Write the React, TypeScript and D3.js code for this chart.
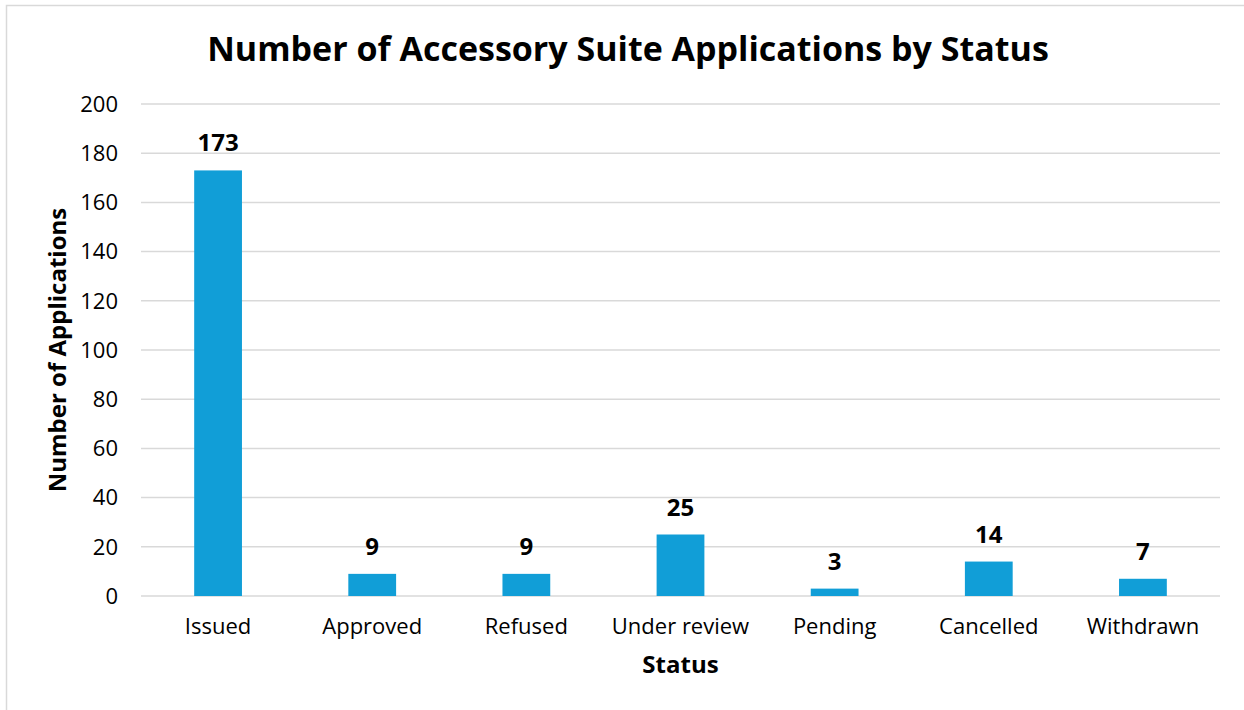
import React, { useRef, useEffect } from 'react';
import * as d3 from 'd3';

const categories = ['Issued', 'Approved', 'Refused', 'Under review', 'Pending', 'Cancelled', 'Withdrawn'];
const counts = [173, 9, 9, 25, 3, 14, 7];
const yTicks = [0, 20, 40, 60, 80, 100, 120, 140, 160, 180, 200];

const FONT = '"Open Sans", "Liberation Sans", sans-serif';

const App = () => {
  const svgRef = useRef<SVGSVGElement>(null);

  useEffect(() => {
    const svg = d3.select(svgRef.current);
    const width = 1244;
    const height = 710;
    const margin = { top: 104, right: 24, bottom: 114, left: 141 };
    const innerWidth = width - margin.left - margin.right;
    const innerHeight = height - margin.top - margin.bottom;

    svg.selectAll('*').remove();

    svg.append('rect')
      .attr('width', width)
      .attr('height', height)
      .attr('fill', '#fff');

    // chart frame (runs off the right and bottom edges)
    svg.append('rect')
      .attr('x', 6.5)
      .attr('y', 5.5)
      .attr('width', width + 20)
      .attr('height', height + 20)
      .attr('fill', 'none')
      .attr('stroke', '#d9d9d9')
      .attr('stroke-width', 1.5);

    const x = d3.scaleBand()
      .domain(categories)
      .range([0, innerWidth])
      .paddingInner(0.69)
      .paddingOuter(0.345);

    const y = d3.scaleLinear()
      .domain([0, 200])
      .range([innerHeight, 0]);

    const g = svg.append('g')
      .attr('transform', `translate(${margin.left}, ${margin.top})`);

    g.selectAll('.grid')
      .data(yTicks)
      .enter()
      .append('line')
      .attr('class', 'grid')
      .attr('x1', 0)
      .attr('x2', innerWidth)
      .attr('y1', d => y(d))
      .attr('y2', d => y(d))
      .attr('stroke', '#d9d9d9')
      .attr('stroke-width', 1.5);

    g.selectAll('.ytick')
      .data(yTicks)
      .enter()
      .append('text')
      .attr('class', 'ytick')
      .attr('x', -23)
      .attr('y', d => y(d))
      .attr('dy', '0.35em')
      .attr('text-anchor', 'end')
      .attr('font-family', FONT)
      .attr('font-size', 22)
      .attr('fill', '#000')
      .text(d => d);

    g.selectAll('.bar')
      .data(counts)
      .enter()
      .append('rect')
      .attr('class', 'bar')
      .attr('x', (d, i) => x(categories[i]))
      .attr('y', d => y(d))
      .attr('width', x.bandwidth())
      .attr('height', d => innerHeight - y(d))
      .attr('fill', '#119ed7');

    g.selectAll('.label')
      .data(counts)
      .enter()
      .append('text')
      .attr('class', 'label')
      .attr('x', (d, i) => x(categories[i]) + x.bandwidth() / 2)
      .attr('y', d => y(d) - 19)
      .attr('text-anchor', 'middle')
      .attr('font-family', FONT)
      .attr('font-weight', 'bold')
      .attr('font-size', 24)
      .attr('fill', '#000')
      .text(d => d);

    g.selectAll('.xtick')
      .data(categories)
      .enter()
      .append('text')
      .attr('class', 'xtick')
      .attr('x', d => x(d) + x.bandwidth() / 2)
      .attr('y', innerHeight + 38)
      .attr('text-anchor', 'middle')
      .attr('font-family', FONT)
      .attr('font-size', 22)
      .attr('fill', '#000')
      .text(d => d);

    svg.append('text')
      .attr('x', margin.left + innerWidth / 2)
      .attr('y', 673)
      .attr('text-anchor', 'middle')
      .attr('font-family', FONT)
      .attr('font-weight', 'bold')
      .attr('font-size', 24)
      .text('Status');

    svg.append('text')
      .attr('transform', `translate(66, ${margin.top + innerHeight / 2}) rotate(-90)`)
      .attr('text-anchor', 'middle')
      .attr('font-family', FONT)
      .attr('font-weight', 'bold')
      .attr('font-size', 24)
      .text('Number of Applications');

    svg.append('text')
      .attr('x', 628)
      .attr('y', 61)
      .attr('text-anchor', 'middle')
      .attr('font-family', FONT)
      .attr('font-weight', 'bold')
      .attr('font-size', 34)
      .text('Number of Accessory Suite Applications by Status');
  }, []);

  return (
    <div style={{ position: 'fixed', left: 0, top: 0 }}>
      <svg ref={svgRef} width={1244} height={710} style={{ display: 'block' }}></svg>
    </div>
  );
};

export default App;
